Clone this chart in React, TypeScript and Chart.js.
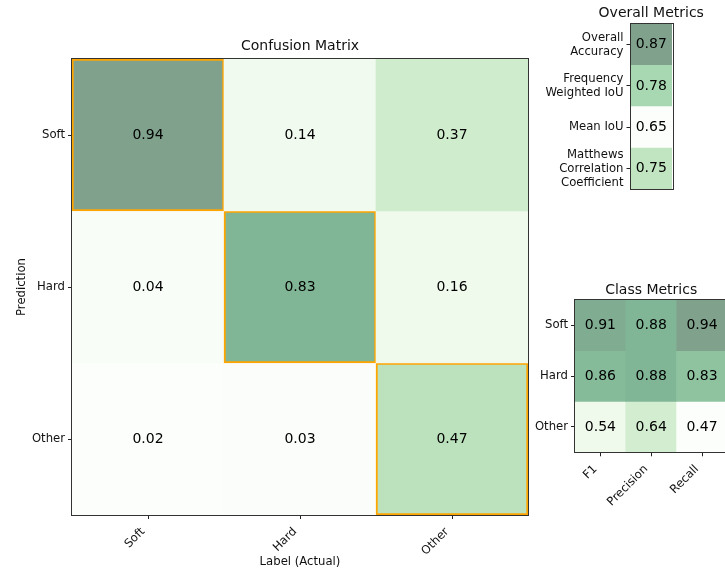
import React, { useEffect, useRef } from 'react';
import { Chart, registerables } from 'chart.js';
Chart.register(...registerables);

// ---- Data ----
const cmClasses = ['Soft', 'Hard', 'Other'];
const cmPredSoft = [0.94, 0.14, 0.37];
const cmPredHard = [0.04, 0.83, 0.16];
const cmPredOther = [0.02, 0.03, 0.47];

const overallLabels: (string | string[])[] = [
  ['Overall', 'Accuracy'],
  ['Frequency', 'Weighted IoU'],
  'Mean IoU',
  ['Matthews', 'Correlation', 'Coefficient'],
];
const overallValues = [0.87, 0.78, 0.65, 0.75];

const classRowLabels = ['Soft', 'Hard', 'Other'];
const classColLabels = ['F1', 'Precision', 'Recall'];
const classSoft = [0.91, 0.88, 0.94];
const classHard = [0.86, 0.88, 0.83];
const classOther = [0.54, 0.64, 0.47];

// ---- Styling helpers ----
const FONT = 'DejaVu Sans';
const TEXT = '#111';
const TICK_SIZE = 11.67;
const TITLE_SIZE = 14;
const VALUE_SIZE = 14;
const GREENS = [
  [247, 252, 245], [229, 245, 224], [199, 233, 192], [161, 217, 155], [116, 196, 118],
  [65, 171, 93], [35, 139, 69], [0, 109, 44], [0, 68, 27],
];
function greens(t: number) {
  const tt = Math.max(0, Math.min(1, t)) * 8;
  const i = Math.min(7, Math.floor(tt));
  const f = tt - i;
  const a = GREENS[i], b = GREENS[i + 1];
  return [0, 1, 2].map((k) => a[k] + (b[k] - a[k]) * f);
}
function cellColor(v: number, min: number, max: number) {
  const c = greens((v - min) / (max - min));
  const m = c.map((x) => Math.round(x * 0.5 + 255 * 0.5));
  return `rgb(${m[0]},${m[1]},${m[2]})`;
}

const valuesPlugin = {
  id: 'cellValues',
  afterDatasetsDraw(chart: any) {
    const ctx = chart.ctx;
    ctx.save();
    ctx.font = `${VALUE_SIZE}px "${FONT}"`;
    ctx.fillStyle = '#000';
    ctx.textAlign = 'center';
    ctx.textBaseline = 'middle';
    chart.data.datasets.forEach((ds: any, di: number) => {
      const meta = chart.getDatasetMeta(di);
      meta.data.forEach((el: any, i: number) => {
        const p = el.getCenterPoint();
        ctx.fillText(ds.values[i].toFixed(2), p.x, p.y);
      });
    });
    ctx.restore();
  },
};

const framePlugin = {
  id: 'frame',
  afterDraw(chart: any) {
    const { left, top, right, bottom } = chart.chartArea;
    const ctx = chart.ctx;
    ctx.save();
    ctx.strokeStyle = '#333';
    ctx.lineWidth = 1;
    ctx.strokeRect(Math.round(left) - 0.5, Math.round(top) - 0.5, Math.round(right - left) + 1, Math.round(bottom - top) + 1);
    ctx.restore();
  },
};

// Title centred over the plot area, allowed to be wider than it
const areaTitlePlugin = {
  id: 'areaTitle',
  afterDraw(chart: any, _args: any, opts: any) {
    if (!opts || !opts.text) return;
    const { left, right, top } = chart.chartArea;
    const ctx = chart.ctx;
    ctx.save();
    ctx.font = `${TITLE_SIZE}px "${FONT}"`;
    ctx.fillStyle = TEXT;
    ctx.textAlign = 'center';
    ctx.textBaseline = 'middle';
    ctx.fillText(opts.text, (left + right) / 2, top - opts.gap);
    ctx.restore();
  },
};

function gridConfig(p: {
  rows: number[][]; rowLabels: string[]; colLabels: string[];
  title: string; titlePad: { top: number; bottom: number };
  padding: { left: number; right: number; top: number; bottom: number };
  yWidth: number; xHeight: number; diag: boolean; xTitle?: string; yTitle?: string; tickPadX?: number;
}) {
  const all = p.rows.flat();
  const min = Math.min(...all), max = Math.max(...all);
  const datasets = p.rows.map((row, r) => ({
    data: row.map(() => [r, r + 1]),
    values: row,
    backgroundColor: row.map((v) => cellColor(v, min, max)),
    borderColor: row.map((_, c) => (p.diag && c === r ? '#ffa500' : 'rgba(0,0,0,0)')),
    borderWidth: row.map((_, c) => (p.diag && c === r ? 2 : 0)),
    borderSkipped: false,
    barPercentage: 1,
    categoryPercentage: 1,
    grouped: false,
  }));
  return {
    type: 'bar',
    data: { labels: p.colLabels, datasets },
    options: {
      responsive: false,
      animation: false,
      events: [],
      layout: { padding: p.padding, autoPadding: false },
      plugins: {
        legend: { display: false },
        tooltip: { enabled: false },
        title: {
          display: true, text: p.title, fullSize: false, color: TEXT,
          font: { family: FONT, size: TITLE_SIZE, weight: 'normal' }, padding: p.titlePad,
        },
      },
      scales: {
        x: {
          type: 'category',
          offset: true,
          grid: { display: true, drawOnChartArea: false, offset: false, tickLength: 4, color: '#222' },
          border: { display: false },
          ticks: {
            maxRotation: 45, minRotation: 45, padding: p.tickPadX ?? 4, labelOffset: -5,
            color: TEXT, font: { family: FONT, size: TICK_SIZE }, autoSkip: false,
          },
          title: p.xTitle ? { display: true, text: p.xTitle, color: TEXT, font: { family: FONT, size: TICK_SIZE }, padding: 0 } : { display: false },
          afterFit: (s: any) => { s.height = p.xHeight; },
        },
        y: {
          type: 'linear', min: 0, max: p.rowLabels.length, reverse: true,
          grid: { display: true, drawOnChartArea: false, tickLength: 4, color: '#222' },
          border: { display: false },
          afterBuildTicks: (axis: any) => { axis.ticks = p.rowLabels.map((_, i) => ({ value: i + 0.5 })); },
          ticks: {
            autoSkip: false, padding: 3, color: TEXT, font: { family: FONT, size: TICK_SIZE },
            callback: (_v: any, i: number) => p.rowLabels[i],
          },
          title: p.yTitle ? { display: true, text: p.yTitle, color: TEXT, font: { family: FONT, size: TICK_SIZE }, padding: 0 } : { display: false },
          afterFit: (s: any) => { s.width = p.yWidth; },
        },
      },
    },
    plugins: [valuesPlugin, framePlugin],
  };
}

function overallConfig() {
  const min = Math.min(...overallValues), max = Math.max(...overallValues);
  return {
    type: 'bar',
    data: {
      labels: overallLabels,
      datasets: [{
        data: overallValues.map(() => [0, 1]),
        values: overallValues,
        backgroundColor: overallValues.map((v) => cellColor(v, min, max)),
        borderWidth: 0,
        barPercentage: 1,
        categoryPercentage: 1,
      }],
    },
    options: {
      indexAxis: 'y',
      responsive: false,
      animation: false,
      events: [],
      layout: { padding: { left: 0, right: 53, top: 22.7, bottom: 17.7 }, autoPadding: false },
      plugins: {
        legend: { display: false },
        tooltip: { enabled: false },
        title: { display: false },
        areaTitle: { text: 'Overall Metrics', gap: 10.4 },
      },
      scales: {
        x: { type: 'linear', min: 0, max: 1, display: false },
        y: {
          type: 'category', offset: true,
          grid: { display: true, drawOnChartArea: false, offset: false, tickLength: 4, color: '#222' },
          border: { display: false },
          ticks: { autoSkip: false, padding: 3, color: TEXT, font: { family: FONT, size: TICK_SIZE } },
          afterFit: (s: any) => { s.width = 85.5; },
        },
      },
    },
    plugins: [valuesPlugin, framePlugin, areaTitlePlugin],
  };
}

function ChartCanvas({ make, style, width, height }: any) {
  const ref = useRef<HTMLCanvasElement>(null);
  useEffect(() => {
    const chart = new Chart(ref.current as HTMLCanvasElement, make());
    return () => chart.destroy();
  }, []);
  return <canvas ref={ref} width={width} height={height} style={{ position: 'absolute', ...style }} />;
}

export default function App() {
  Chart.defaults.font.family = FONT;
  return (
    <div style={{ position: 'fixed', left: 0, top: 0, width: 725, height: 573, overflow: 'hidden', background: '#fff' }}>
      <ChartCanvas
        width={545} height={573} style={{ left: 0, top: 0 }}
        make={() => gridConfig({
          rows: [cmPredSoft, cmPredHard, cmPredOther], rowLabels: cmClasses, colLabels: cmClasses,
          title: 'Confusion Matrix', titlePad: { top: 38.3, bottom: 3.9 },
          padding: { left: 15, right: 17, top: 0, bottom: 4 }, yWidth: 57, xHeight: 54, diag: true,
          xTitle: 'Label (Actual)', yTitle: 'Prediction', tickPadX: 6,
        })}
      />
      <ChartCanvas width={180} height={207} style={{ left: 545, top: 0 }} make={overallConfig} />
      <ChartCanvas
        width={220} height={240} style={{ left: 520, top: 270 }}
        make={() => gridConfig({
          rows: [classSoft, classHard, classOther], rowLabels: classRowLabels, colLabels: classColLabels,
          title: 'Class Metrics', titlePad: { top: 11.6, bottom: 1.6 },
          padding: { left: 0, right: 12.6, top: 0, bottom: 0 }, yWidth: 55, xHeight: 57.7, diag: false, tickPadX: 6,
        })}
      />
    </div>
  );
}
